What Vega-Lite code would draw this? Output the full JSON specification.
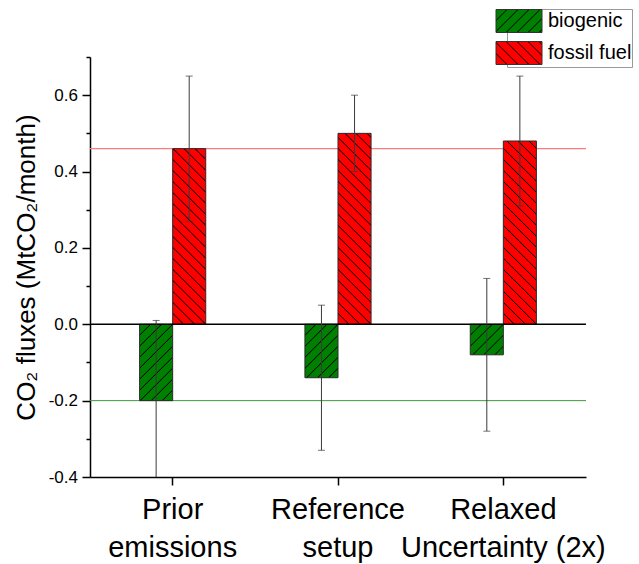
{
  "$schema": "https://vega.github.io/schema/vega-lite/v6.json",
  "width": 496,
  "height": 420,
  "autosize": "none",
  "padding": {"left": 90, "top": 57, "right": 53, "bottom": 87},
  "background": "white",
  "config": {
    "font": "Liberation Sans",
    "view": {"stroke": null},
    "axis": {"grid": false}
  },
  "params": [
    {"name": "sg", "value": [
      {"offset": 0, "color": "#000"}, {"offset": 0.004, "color": "#008000"}, {"offset": 0.036, "color": "#008000"},
      {"offset": 0.04, "color": "#000"}, {"offset": 0.044, "color": "#008000"}, {"offset": 0.076, "color": "#008000"},
      {"offset": 0.08, "color": "#000"}, {"offset": 0.084, "color": "#008000"}, {"offset": 0.116, "color": "#008000"},
      {"offset": 0.12, "color": "#000"}, {"offset": 0.124, "color": "#008000"}, {"offset": 0.156, "color": "#008000"},
      {"offset": 0.16, "color": "#000"}, {"offset": 0.164, "color": "#008000"}, {"offset": 0.196, "color": "#008000"},
      {"offset": 0.2, "color": "#000"}, {"offset": 0.204, "color": "#008000"}, {"offset": 0.236, "color": "#008000"},
      {"offset": 0.24, "color": "#000"}, {"offset": 0.244, "color": "#008000"}, {"offset": 0.276, "color": "#008000"},
      {"offset": 0.28, "color": "#000"}, {"offset": 0.284, "color": "#008000"}, {"offset": 0.316, "color": "#008000"},
      {"offset": 0.32, "color": "#000"}, {"offset": 0.324, "color": "#008000"}, {"offset": 0.356, "color": "#008000"},
      {"offset": 0.36, "color": "#000"}, {"offset": 0.364, "color": "#008000"}, {"offset": 0.396, "color": "#008000"},
      {"offset": 0.4, "color": "#000"}, {"offset": 0.404, "color": "#008000"}, {"offset": 0.436, "color": "#008000"},
      {"offset": 0.44, "color": "#000"}, {"offset": 0.444, "color": "#008000"}, {"offset": 0.476, "color": "#008000"},
      {"offset": 0.48, "color": "#000"}, {"offset": 0.484, "color": "#008000"}, {"offset": 0.516, "color": "#008000"},
      {"offset": 0.52, "color": "#000"}, {"offset": 0.524, "color": "#008000"}, {"offset": 0.556, "color": "#008000"},
      {"offset": 0.56, "color": "#000"}, {"offset": 0.564, "color": "#008000"}, {"offset": 0.596, "color": "#008000"},
      {"offset": 0.6, "color": "#000"}, {"offset": 0.604, "color": "#008000"}, {"offset": 0.636, "color": "#008000"},
      {"offset": 0.64, "color": "#000"}, {"offset": 0.644, "color": "#008000"}, {"offset": 0.676, "color": "#008000"},
      {"offset": 0.68, "color": "#000"}, {"offset": 0.684, "color": "#008000"}, {"offset": 0.716, "color": "#008000"},
      {"offset": 0.72, "color": "#000"}, {"offset": 0.724, "color": "#008000"}, {"offset": 0.756, "color": "#008000"},
      {"offset": 0.76, "color": "#000"}, {"offset": 0.764, "color": "#008000"}, {"offset": 0.796, "color": "#008000"},
      {"offset": 0.8, "color": "#000"}, {"offset": 0.804, "color": "#008000"}, {"offset": 0.836, "color": "#008000"},
      {"offset": 0.84, "color": "#000"}, {"offset": 0.844, "color": "#008000"}, {"offset": 0.876, "color": "#008000"},
      {"offset": 0.88, "color": "#000"}, {"offset": 0.884, "color": "#008000"}, {"offset": 0.916, "color": "#008000"},
      {"offset": 0.92, "color": "#000"}, {"offset": 0.924, "color": "#008000"}, {"offset": 0.956, "color": "#008000"},
      {"offset": 0.96, "color": "#000"}, {"offset": 0.964, "color": "#008000"}, {"offset": 0.996, "color": "#008000"},
      {"offset": 1, "color": "#000"}
    ]},
    {"name": "sr", "value": [
      {"offset": 0, "color": "#000"}, {"offset": 0.004, "color": "#ff0000"}, {"offset": 0.036, "color": "#ff0000"},
      {"offset": 0.04, "color": "#000"}, {"offset": 0.044, "color": "#ff0000"}, {"offset": 0.076, "color": "#ff0000"},
      {"offset": 0.08, "color": "#000"}, {"offset": 0.084, "color": "#ff0000"}, {"offset": 0.116, "color": "#ff0000"},
      {"offset": 0.12, "color": "#000"}, {"offset": 0.124, "color": "#ff0000"}, {"offset": 0.156, "color": "#ff0000"},
      {"offset": 0.16, "color": "#000"}, {"offset": 0.164, "color": "#ff0000"}, {"offset": 0.196, "color": "#ff0000"},
      {"offset": 0.2, "color": "#000"}, {"offset": 0.204, "color": "#ff0000"}, {"offset": 0.236, "color": "#ff0000"},
      {"offset": 0.24, "color": "#000"}, {"offset": 0.244, "color": "#ff0000"}, {"offset": 0.276, "color": "#ff0000"},
      {"offset": 0.28, "color": "#000"}, {"offset": 0.284, "color": "#ff0000"}, {"offset": 0.316, "color": "#ff0000"},
      {"offset": 0.32, "color": "#000"}, {"offset": 0.324, "color": "#ff0000"}, {"offset": 0.356, "color": "#ff0000"},
      {"offset": 0.36, "color": "#000"}, {"offset": 0.364, "color": "#ff0000"}, {"offset": 0.396, "color": "#ff0000"},
      {"offset": 0.4, "color": "#000"}, {"offset": 0.404, "color": "#ff0000"}, {"offset": 0.436, "color": "#ff0000"},
      {"offset": 0.44, "color": "#000"}, {"offset": 0.444, "color": "#ff0000"}, {"offset": 0.476, "color": "#ff0000"},
      {"offset": 0.48, "color": "#000"}, {"offset": 0.484, "color": "#ff0000"}, {"offset": 0.516, "color": "#ff0000"},
      {"offset": 0.52, "color": "#000"}, {"offset": 0.524, "color": "#ff0000"}, {"offset": 0.556, "color": "#ff0000"},
      {"offset": 0.56, "color": "#000"}, {"offset": 0.564, "color": "#ff0000"}, {"offset": 0.596, "color": "#ff0000"},
      {"offset": 0.6, "color": "#000"}, {"offset": 0.604, "color": "#ff0000"}, {"offset": 0.636, "color": "#ff0000"},
      {"offset": 0.64, "color": "#000"}, {"offset": 0.644, "color": "#ff0000"}, {"offset": 0.676, "color": "#ff0000"},
      {"offset": 0.68, "color": "#000"}, {"offset": 0.684, "color": "#ff0000"}, {"offset": 0.716, "color": "#ff0000"},
      {"offset": 0.72, "color": "#000"}, {"offset": 0.724, "color": "#ff0000"}, {"offset": 0.756, "color": "#ff0000"},
      {"offset": 0.76, "color": "#000"}, {"offset": 0.764, "color": "#ff0000"}, {"offset": 0.796, "color": "#ff0000"},
      {"offset": 0.8, "color": "#000"}, {"offset": 0.804, "color": "#ff0000"}, {"offset": 0.836, "color": "#ff0000"},
      {"offset": 0.84, "color": "#000"}, {"offset": 0.844, "color": "#ff0000"}, {"offset": 0.876, "color": "#ff0000"},
      {"offset": 0.88, "color": "#000"}, {"offset": 0.884, "color": "#ff0000"}, {"offset": 0.916, "color": "#ff0000"},
      {"offset": 0.92, "color": "#000"}, {"offset": 0.924, "color": "#ff0000"}, {"offset": 0.956, "color": "#ff0000"},
      {"offset": 0.96, "color": "#000"}, {"offset": 0.964, "color": "#ff0000"}, {"offset": 0.996, "color": "#ff0000"},
      {"offset": 1, "color": "#000"}
    ]},
    {"name": "lg", "expr": "{gradient: 'linear', x1: 0, y1: 0, x2: 4.783, y2: 2.391, stops: sg}"},
    {"name": "lr", "expr": "{gradient: 'linear', x1: 0, y1: 1, x2: 4.783, y2: -1.391, stops: sr}"}
  ],
  "data": {"values": [
    {"scenario": "Prior emissions", "series": "biogenic", "value": -0.2, "lo": -0.41, "hi": 0.01},
    {"scenario": "Prior emissions", "series": "fossil fuel", "value": 0.46, "lo": 0.27, "hi": 0.65},
    {"scenario": "Reference setup", "series": "biogenic", "value": -0.14, "lo": -0.33, "hi": 0.05},
    {"scenario": "Reference setup", "series": "fossil fuel", "value": 0.5, "lo": 0.4, "hi": 0.6},
    {"scenario": "Relaxed Uncertainty (2x)", "series": "biogenic", "value": -0.08, "lo": -0.28, "hi": 0.12},
    {"scenario": "Relaxed Uncertainty (2x)", "series": "fossil fuel", "value": 0.48, "lo": 0.31, "hi": 0.65}
  ]},
  "encoding": {
    "x": {
      "field": "scenario", "type": "nominal",
      "sort": ["Prior emissions", "Reference setup", "Relaxed Uncertainty (2x)"],
      "scale": {"paddingInner": 0, "paddingOuter": 0},
      "axis": {
        "title": null, "labelAngle": 0, "bandPosition": 0.5, "labelLimit": 400,
        "labelExpr": "datum.value == 'Prior emissions' ? ['Prior', 'emissions'] : datum.value == 'Reference setup' ? ['Reference', 'setup'] : ['Relaxed', 'Uncertainty (2x)']",
        "labelFontSize": 29, "labelLineHeight": 38, "labelBaseline": "top", "labelPadding": 10,
        "labelColor": "#000", "tickSize": 8, "tickWidth": 1.5, "tickColor": "#000",
        "domainColor": "#000", "domainWidth": 1.5
      }
    },
    "y": {
      "type": "quantitative",
      "scale": {"domain": [-0.4, 0.7], "nice": false, "zero": false},
      "axis": {
        "title": "CO₂ fluxes (MtCO₂/month)",
        "titleFontSize": 26, "titleFontWeight": "normal", "titleColor": "#000", "titlePadding": 9,
        "values": [-0.4, -0.3, -0.2, -0.1, 0, 0.1, 0.2, 0.3, 0.4, 0.5, 0.6, 0.7],
        "labelExpr": "round(datum.value * 10) % 2 == 0 ? replace(format(datum.value, '.1f'), '\u2212', '-') : ''",
        "labelFontSize": 17, "labelColor": "#000", "labelPadding": 4.5,
        "tickSize": {"condition": {"test": "round(datum.value * 10) % 2 == 0", "value": 8}, "value": 4},
        "tickWidth": 1.5, "tickColor": "#000",
        "domainColor": "#000", "domainWidth": 1.5
      }
    }
  },
  "layer": [
    {
      "data": {"values": [{"level": 0.46}]},
      "mark": {"type": "rule", "color": "#ff7b7b", "strokeWidth": 1.3},
      "encoding": {"y": {"field": "level", "type": "quantitative"}, "x": null}
    },
    {
      "data": {"values": [{"level": -0.2}]},
      "mark": {"type": "rule", "color": "#3d9a3d", "strokeWidth": 1},
      "encoding": {"y": {"field": "level", "type": "quantitative"}, "x": null}
    },
    {
      "mark": {
        "type": "bar", "stroke": "#2a2a2a", "strokeWidth": 1,
        "fill": {"expr": "datum.series == 'biogenic' ? {gradient: 'linear', x1: 0, y1: 0, x2: 9075 / (1089 + pow(abs(datum.value) * 382, 2)), y2: 105050 * abs(datum.value) / (1089 + pow(abs(datum.value) * 382, 2)), stops: sg} : {gradient: 'linear', x1: 0, y1: 1, x2: 9075 / (1089 + pow(abs(datum.value) * 382, 2)), y2: 1 - 105050 * abs(datum.value) / (1089 + pow(abs(datum.value) * 382, 2)), stops: sr}"}
      },
      "encoding": {
        "xOffset": {"field": "series", "type": "nominal", "scale": {"domain": ["_a", "biogenic", "fossil fuel", "_b"], "paddingInner": 0, "paddingOuter": 0.5}},
        "y": {"field": "value", "type": "quantitative", "stack": null}
      }
    },
    {
      "data": {"values": [{"level": 0}]},
      "mark": {"type": "rule", "color": "#000", "strokeWidth": 1.5},
      "encoding": {"y": {"field": "level", "type": "quantitative"}, "x": null}
    },
    {
      "mark": {"type": "rule", "color": "#3a3a3a", "strokeWidth": 1, "clip": true},
      "encoding": {
        "xOffset": {"field": "series", "type": "nominal"},
        "y": {"field": "lo", "type": "quantitative"},
        "y2": {"field": "hi"}
      }
    },
    {
      "mark": {"type": "tick", "color": "#3a3a3a", "thickness": 1, "size": 7, "clip": true},
      "encoding": {
        "xOffset": {"field": "series", "type": "nominal"},
        "y": {"field": "hi", "type": "quantitative"}
      }
    },
    {
      "mark": {"type": "tick", "color": "#3a3a3a", "thickness": 1, "size": 7, "clip": true},
      "encoding": {
        "xOffset": {"field": "series", "type": "nominal"},
        "y": {"field": "lo", "type": "quantitative"}
      }
    },
    {
      "mark": {"type": "point", "filled": true, "opacity": 0},
      "encoding": {
        "y": {"field": "value", "type": "quantitative"},
        "color": {
          "field": "series", "type": "nominal",
          "scale": {"domain": ["biogenic", "fossil fuel"], "range": [{"expr": "lg"}, {"expr": "lr"}]},
          "legend": {
            "title": null, "orient": "none", "legendX": 417, "legendY": -48,
            "symbolType": "M-2,-1H2V1H-2Z", "symbolSize": 529,
            "symbolStrokeColor": "#333", "symbolStrokeWidth": 1, "symbolOpacity": 1,
            "labelFontSize": 20, "labelColor": "#000", "labelOffset": 17,
            "padding": 0, "strokeColor": "#999", "fillColor": "#fff", "rowPadding": 4
          }
        }
      }
    }
  ]
}
